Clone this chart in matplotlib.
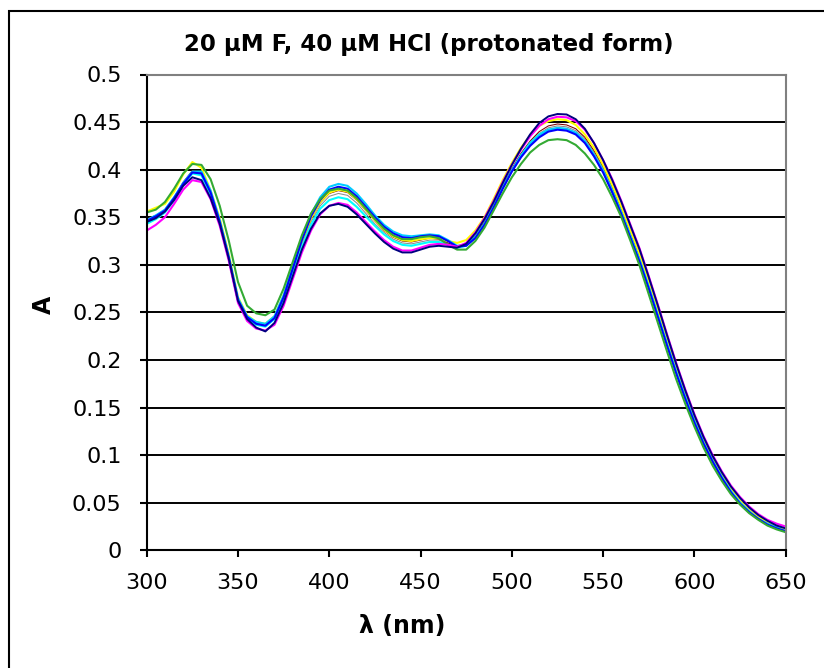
import matplotlib
matplotlib.use("Agg")
import matplotlib.pyplot as plt
from matplotlib.patches import Rectangle

wavelength = list(range(300, 651, 5))

navy = [0.345, 0.349, 0.356, 0.368, 0.383, 0.392, 0.389, 0.370, 0.343, 0.306,
        0.262, 0.243, 0.234, 0.230, 0.239, 0.260, 0.288, 0.316, 0.338, 0.354,
        0.362, 0.364, 0.361, 0.353, 0.343, 0.333, 0.324, 0.317, 0.313, 0.313,
        0.316, 0.319, 0.320, 0.319, 0.318, 0.322, 0.333, 0.348, 0.366, 0.386,
        0.405, 0.422, 0.437, 0.449, 0.456, 0.4585, 0.458, 0.453, 0.443, 0.428,
        0.410, 0.389, 0.366, 0.341, 0.316, 0.287, 0.257, 0.226, 0.196, 0.168,
        0.142, 0.119, 0.099, 0.082, 0.067, 0.055, 0.045, 0.037, 0.031, 0.026, 0.023]

magenta = [0.336, 0.342, 0.350, 0.364, 0.379, 0.389, 0.387, 0.369, 0.341, 0.304,
           0.260, 0.241, 0.233, 0.231, 0.237, 0.257, 0.285, 0.313, 0.336, 0.353,
           0.362, 0.365, 0.363, 0.355, 0.345, 0.335, 0.326, 0.319, 0.315, 0.315,
           0.318, 0.321, 0.322, 0.321, 0.319, 0.323, 0.334, 0.349, 0.367, 0.387,
           0.405, 0.421, 0.435, 0.446, 0.453, 0.4556, 0.455, 0.451, 0.442, 0.428,
           0.410, 0.390, 0.367, 0.342, 0.317, 0.288, 0.258, 0.227, 0.197, 0.169,
           0.143, 0.120, 0.100, 0.083, 0.068, 0.056, 0.046, 0.038, 0.032, 0.028, 0.025]

yellow = [0.356, 0.360, 0.364, 0.377, 0.395, 0.408, 0.402, 0.378, 0.349, 0.311,
          0.266, 0.247, 0.240, 0.238, 0.246, 0.268, 0.297, 0.325, 0.349, 0.366,
          0.376, 0.379, 0.377, 0.369, 0.358, 0.347, 0.337, 0.330, 0.326, 0.325,
          0.327, 0.328, 0.328, 0.325, 0.323, 0.326, 0.336, 0.350, 0.369, 0.389,
          0.407, 0.423, 0.436, 0.446, 0.451, 0.453, 0.452, 0.447, 0.437, 0.423,
          0.405, 0.384, 0.361, 0.336, 0.311, 0.282, 0.252, 0.222, 0.192, 0.165,
          0.139, 0.116, 0.096, 0.079, 0.064, 0.052, 0.042, 0.035, 0.029, 0.025, 0.021]

skyblue = [0.347, 0.352, 0.358, 0.371, 0.386, 0.398, 0.398, 0.378, 0.347, 0.309,
           0.265, 0.246, 0.240, 0.238, 0.246, 0.268, 0.298, 0.328, 0.353, 0.371,
           0.382, 0.385, 0.383, 0.375, 0.364, 0.352, 0.342, 0.335, 0.331, 0.330,
           0.331, 0.332, 0.331, 0.326, 0.320, 0.321, 0.329, 0.343, 0.361, 0.381,
           0.399, 0.414, 0.427, 0.436, 0.442, 0.444, 0.443, 0.439, 0.430, 0.416,
           0.399, 0.378, 0.355, 0.330, 0.305, 0.277, 0.247, 0.217, 0.188, 0.161,
           0.136, 0.113, 0.094, 0.077, 0.062, 0.050, 0.041, 0.033, 0.028, 0.024, 0.020]

blue = [0.346, 0.351, 0.357, 0.370, 0.385, 0.397, 0.396, 0.376, 0.345, 0.307,
        0.263, 0.245, 0.238, 0.236, 0.244, 0.266, 0.296, 0.326, 0.351, 0.368,
        0.379, 0.382, 0.380, 0.372, 0.361, 0.350, 0.340, 0.333, 0.329, 0.328,
        0.330, 0.331, 0.330, 0.325, 0.319, 0.320, 0.328, 0.342, 0.360, 0.380,
        0.398, 0.413, 0.425, 0.434, 0.440, 0.442, 0.441, 0.437, 0.428, 0.414,
        0.397, 0.376, 0.353, 0.328, 0.303, 0.275, 0.245, 0.215, 0.186, 0.159,
        0.134, 0.112, 0.093, 0.076, 0.061, 0.049, 0.040, 0.033, 0.027, 0.023, 0.020]

green = [0.355, 0.358, 0.366, 0.380, 0.396, 0.406, 0.405, 0.390, 0.362, 0.325,
         0.282, 0.257, 0.249, 0.247, 0.253, 0.275, 0.303, 0.331, 0.354, 0.369,
         0.378, 0.380, 0.378, 0.370, 0.359, 0.348, 0.338, 0.331, 0.327, 0.327,
         0.329, 0.330, 0.328, 0.321, 0.316, 0.316, 0.325, 0.339, 0.357, 0.375,
         0.392, 0.406, 0.418, 0.426, 0.431, 0.432, 0.431, 0.426, 0.417, 0.405,
         0.390, 0.371, 0.350, 0.325, 0.299, 0.269, 0.239, 0.209, 0.180, 0.154,
         0.130, 0.108, 0.089, 0.073, 0.059, 0.048, 0.039, 0.032, 0.026, 0.022, 0.019]

cyan = [0.343, 0.348, 0.355, 0.368, 0.384, 0.396, 0.394, 0.374, 0.344, 0.306,
        0.262, 0.244, 0.237, 0.235, 0.243, 0.263, 0.291, 0.319, 0.342, 0.359,
        0.368, 0.371, 0.369, 0.361, 0.351, 0.341, 0.332, 0.325, 0.321, 0.320,
        0.322, 0.324, 0.324, 0.321, 0.318, 0.320, 0.329, 0.343, 0.361, 0.381,
        0.399, 0.415, 0.428, 0.437, 0.442, 0.443, 0.442, 0.438, 0.429, 0.415,
        0.398, 0.377, 0.354, 0.329, 0.304, 0.276, 0.246, 0.216, 0.187, 0.160,
        0.135, 0.113, 0.093, 0.077, 0.062, 0.050, 0.040, 0.033, 0.027, 0.023, 0.020]

maroon = [0.348, 0.352, 0.358, 0.371, 0.387, 0.399, 0.397, 0.377, 0.346, 0.308,
          0.264, 0.246, 0.239, 0.237, 0.245, 0.266, 0.295, 0.324, 0.348, 0.365,
          0.375, 0.378, 0.376, 0.368, 0.357, 0.346, 0.336, 0.329, 0.325, 0.324,
          0.326, 0.328, 0.327, 0.323, 0.319, 0.321, 0.330, 0.345, 0.363, 0.383,
          0.401, 0.417, 0.430, 0.440, 0.446, 0.448, 0.447, 0.443, 0.434, 0.420,
          0.403, 0.382, 0.359, 0.334, 0.308, 0.280, 0.250, 0.220, 0.190, 0.163,
          0.138, 0.115, 0.095, 0.078, 0.063, 0.051, 0.042, 0.034, 0.028, 0.024, 0.021]

gray = [0.347, 0.351, 0.357, 0.370, 0.386, 0.397, 0.395, 0.375, 0.345, 0.307,
        0.263, 0.245, 0.238, 0.236, 0.244, 0.264, 0.293, 0.322, 0.345, 0.362,
        0.372, 0.375, 0.373, 0.365, 0.354, 0.343, 0.334, 0.327, 0.323, 0.322,
        0.324, 0.326, 0.326, 0.322, 0.319, 0.321, 0.330, 0.344, 0.362, 0.382,
        0.400, 0.416, 0.429, 0.438, 0.444, 0.446, 0.445, 0.441, 0.432, 0.418,
        0.401, 0.380, 0.357, 0.332, 0.306, 0.278, 0.248, 0.218, 0.189, 0.162,
        0.137, 0.114, 0.094, 0.077, 0.062, 0.051, 0.041, 0.034, 0.028, 0.024, 0.021]

series = [
    (gray, "#8c8c8c", 0.75),
    (maroon, "#800000", 0.75),
    (yellow, "#ffff00", 1.5),
    (cyan, "#00ffff", 1.5),
    (skyblue, "#00ccff", 1.5),
    (blue, "#0000ff", 1.5),
    (green, "#33aa33", 1.5),
    (magenta, "#ff00ff", 1.5),
    (navy, "#000080", 1.4),
]

x_ticks = [300, 350, 400, 450, 500, 550, 600, 650]
y_ticks = [0, 0.05, 0.1, 0.15, 0.2, 0.25, 0.3, 0.35, 0.4, 0.45, 0.5]
y_ticklabels = ["0", "0.05", "0.1", "0.15", "0.2", "0.25", "0.3", "0.35", "0.4", "0.45", "0.5"]

plt.rcParams['font.family'] = ['DejaVu Sans']

W, H = 824, 668
fig = plt.figure(figsize=(W / 100, H / 100), dpi=100)
fig.patch.set_facecolor("white")

# outer chart border
fig.patches.append(Rectangle((9 / W, -0.05), 1.2, 1 - 11 / H + 0.05, transform=fig.transFigure,
                             fill=False, edgecolor="black", linewidth=1.5))

x0, x1, ytop, ybot = 146.7, 785.7, 74.5, 550.3
ax = fig.add_axes([x0 / W, 1 - ybot / H, (x1 - x0) / W, (ybot - ytop) / H])

for vals, col, lw in series:
    ax.plot(wavelength, vals, color=col, linewidth=lw, solid_joinstyle="round")

ax.set_xlim(300, 650)
ax.set_ylim(0, 0.5)
ax.set_xticks(x_ticks)
ax.set_yticks(y_ticks)
ax.set_yticklabels(y_ticklabels)
ax.yaxis.grid(True, color="black", linewidth=1.4)
ax.set_axisbelow(True)

for s in ["left", "bottom"]:
    ax.spines[s].set_color("black")
    ax.spines[s].set_linewidth(1.5)
for s in ["top", "right"]:
    ax.spines[s].set_color("#808080")
    ax.spines[s].set_linewidth(1.5)

ax.tick_params(axis="both", direction="out", length=5, width=1.5, labelsize=16, colors="black")
ax.tick_params(axis="x", pad=11.5)
ax.tick_params(axis="y", pad=13)

fig.text(429 / W, 1 - 44 / H, "20 \u03bcM F, 40 \u03bcM HCl (protonated form)",
         ha="center", va="center", fontsize=16.5, fontweight="bold")
fig.text(402 / W, 1 - 626 / H, "\u03bb (nm)", ha="center", va="center",
         fontsize=17, fontweight="bold")
fig.text(44 / W, 1 - 305 / H, "A", ha="center", va="center", rotation=90,
         fontsize=17, fontweight="bold")

fig.savefig("out.png", dpi=100, facecolor="white")
